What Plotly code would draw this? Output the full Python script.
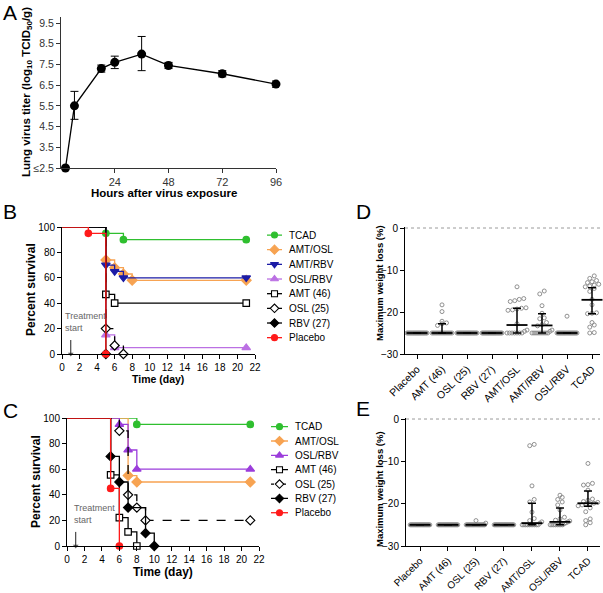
import plotly.graph_objects as go

FONT = "Liberation Sans, Arial, sans-serif"
W, H = 603, 593

# ---------------- Panel A data ----------------
hours = [2, 6, 18, 24, 36, 48, 72, 96]
titer = [2.5, 5.5, 7.3, 7.6, 8.0, 7.45, 7.05, 6.55]
titer_err_plus = [0, 0.7, 0.17, 0.3, 0.85, 0.15, 0.15, 0.15]
titer_err_minus = [0, 0.65, 0.17, 0.3, 0.8, 0.15, 0.15, 0.15]
a_ytick_vals = [2.5, 3.5, 4.5, 5.5, 6.5, 7.5, 8.5, 9.5]
a_ytick_text = ["≤2.5", "3.5", "4.5", "5.5", "6.5", "7.5", "8.5", "9.5"]
a_xtick_vals = [24, 48, 72, 96]

# ---------------- Panel B data (Kaplan-Meier steps) ----------------
b_names = ["TCAD", "AMT/OSL", "AMT/RBV", "OSL/RBV", "AMT (46)", "OSL (25)", "RBV (27)", "Placebo"]
b_tcad_x = [0, 5, 7, 21];        b_tcad_y = [100, 95, 90, 90]
b_amtosl_x = [0, 5, 6, 7, 8, 21]; b_amtosl_y = [100, 74, 68, 63, 58, 58]
b_amtrbv_x = [0, 5, 6, 7, 21];   b_amtrbv_y = [100, 70, 65, 60, 60]
b_oslrbv_x = [0, 5, 6, 21];      b_oslrbv_y = [100, 15, 5, 5]
b_amt_x = [0, 5, 6, 21];         b_amt_y = [100, 47, 40, 40]
b_osl_x = [0, 5, 6, 7];          b_osl_y = [100, 20, 6.7, 0]
b_rbv_x = [0, 5];                b_rbv_y = [100, 0]
b_plac_x = [0, 3, 5];            b_plac_y = [100, 95, 0]

# ---------------- Panel C data ----------------
c_names = ["TCAD", "AMT/OSL", "OSL/RBV", "AMT (46)", "OSL (25)", "RBV (27)", "Placebo"]
c_tcad_x = [0, 8, 21];           c_tcad_y = [100, 95, 95]
c_amtosl_x = [0, 7, 8, 21];      c_amtosl_y = [100, 55, 50, 50]
c_oslrbv_x = [0, 6, 7, 8, 21];   c_oslrbv_y = [100, 95, 75, 60, 60]
c_amt_x = [0, 5, 6, 7, 8];       c_amt_y = [100, 55.5, 22.2, 11.1, 0]
c_osl_x = [0, 6, 7, 8, 9, 21];   c_osl_y = [100, 90, 40, 30, 20, 20]
c_rbv_x = [0, 5, 6, 7, 9, 10];   c_rbv_y = [100, 70, 50, 30, 10, 0]
c_plac_x = [0, 5, 6];            c_plac_y = [100, 45, 0]
surv_xticks = list(range(0, 23, 2))
surv_yticks = [0, 20, 40, 60, 80, 100]
treatment_day = 1

# ---------------- Panel D data (max weight loss, %) ----------------
d_categories = ["Placebo", "AMT (46)", "OSL (25)", "RBV (27)", "AMT/OSL", "AMT/RBV", "OSL/RBV", "TCAD"]
d_placebo = [-25] * 20
d_amt = [-18.3, -19.9, -22.2, -22.6, -22.8, -23.2] + [-25] * 14
d_osl = [-25] * 20
d_rbv = [-25] * 20
d_amtosl = [-14.0, -16.8, -17.0, -17.3, -17.5, -19.0, -19.1, -19.3, -19.5, -19.6,
            -22.8, -24.3, -24.6] + [-25] * 7
d_amtrbv = [-15.0, -15.7, -18.5, -20.3, -21.4, -21.6, -22.5, -23.0, -23.3, -24.3,
            -24.6] + [-25] * 9
d_oslrbv = [-21.0] + [-25] * 19
d_tcad = [-11.4, -12.0, -12.5, -12.8, -13.0, -13.4, -13.6, -13.8, -14.0, -14.4, -15.1,
          -17.0, -18.3, -20.2, -20.3, -20.4, -22.5, -23.1, -23.6, -24.9, -25.0]
d_median = [-25, -25, -25, -25, -23.1, -23.2, -25, -17.1]
d_q1 = [-25, -25, -25, -25, -25, -25, -25, -20.4]
d_q3 = [-25, -22.8, -25, -25, -19.1, -20.4, -25, -14.2]

# ---------------- Panel E data ----------------
e_categories = ["Placebo", "AMT (46)", "OSL (25)", "RBV (27)", "AMT/OSL", "OSL/RBV", "TCAD"]
e_placebo = [-25] * 20
e_amt = [-25] * 20
e_osl = [-24.0, -24.6] + [-25] * 18
e_rbv = [-25] * 20
e_amtosl = [-6.3, -6.0, -15.8, -19.0, -19.6, -22.0, -23.5, -24.0, -24.3, -24.6] + [-25] * 10
e_oslrbv = [-18.0, -18.5, -19.0, -19.6, -20.3, -21.5, -23.2, -23.6, -23.9, -24.1, -24.3,
            -24.5, -24.7] + [-25] * 8
e_tcad = [-10.5, -15.2, -15.5, -15.6, -16.8, -18.9, -19.2, -19.5, -19.7, -19.9, -20.0,
          -20.1, -20.3, -20.5, -21.0, -21.9, -23.6, -24.0, -24.5, -25.0]
e_median = [-25, -25, -25, -25, -24.6, -24.3, -19.9]
e_q1 = [-25, -25, -25, -25, -25, -25, -20.6]
e_q3 = [-25, -25, -25, -25, -19.9, -21.0, -17.0]

# ---------------- styles ----------------
GREEN = "#2fbf2f"
ORANGE = "#f7a352"
BLUE = "#1c1ca6"
PURPLE_B = "#bb70e3"
PURPLE_C = "#9b3ddb"
RED = "#ff1a1a"
BLACK = "#000000"

style = {
    "TCAD": dict(color=GREEN, symbol="circle", fill=GREEN, size=6.5, dash="solid"),
    "AMT/OSL": dict(color=ORANGE, symbol="diamond", fill=ORANGE, size=7.5, dash="solid"),
    "AMT/RBV": dict(color=BLUE, symbol="triangle-down", fill=BLUE, size=7.5, dash="solid"),
    "OSL/RBV": dict(color=PURPLE_B, symbol="triangle-up", fill=PURPLE_B, size=7.5, dash="solid"),
    "AMT (46)": dict(color=BLACK, symbol="square", fill="white", size=6.5, dash="solid"),
    "OSL (25)": dict(color=BLACK, symbol="diamond", fill="white", size=7, dash="dash"),
    "RBV (27)": dict(color=BLACK, symbol="diamond", fill=BLACK, size=7, dash="solid"),
    "Placebo": dict(color=RED, symbol="circle", fill=RED, size=6.5, dash="solid"),
}


def px_x(px):
    return px / W


def px_y(py):
    return 1 - py / H


fig = go.Figure()

# ---------------- Panel A ----------------
fig.add_trace(go.Scatter(
    x=hours, y=titer, mode="lines+markers",
    line=dict(color="black", width=1.3),
    marker=dict(color="black", size=9, symbol="circle"),
    error_y=dict(type="data", symmetric=False, array=titer_err_plus,
                 arrayminus=titer_err_minus, color="black", thickness=1, width=4),
    cliponaxis=False, showlegend=False, xaxis="x", yaxis="y"))


def add_km(xs, ys, name, xa, ya, color_override=None):
    st = dict(style[name])
    if color_override:
        st["color"] = color_override
        st["fill"] = color_override
    fig.add_trace(go.Scatter(
        x=xs, y=ys, mode="lines", line=dict(shape="hv", color=st["color"], width=1.3,
                                              dash=st["dash"]),
        cliponaxis=False, showlegend=False, xaxis=xa, yaxis=ya, hoverinfo="skip"))
    fig.add_trace(go.Scatter(
        x=xs[1:], y=ys[1:], mode="markers",
        marker=dict(symbol=st["symbol"], size=st["size"], color=st["fill"],
                    line=dict(color=st["color"], width=1.2)),
        cliponaxis=False, showlegend=False, xaxis=xa, yaxis=ya, name=name))


# ---------------- Panel B ----------------
b_series = [(b_tcad_x, b_tcad_y), (b_amtosl_x, b_amtosl_y), (b_amtrbv_x, b_amtrbv_y),
            (b_oslrbv_x, b_oslrbv_y), (b_amt_x, b_amt_y), (b_osl_x, b_osl_y),
            (b_rbv_x, b_rbv_y), (b_plac_x, b_plac_y)]
for name, (xs, ys) in zip(b_names, b_series):
    add_km(xs, ys, name, "x2", "y2")

# ---------------- Panel C ----------------
c_series = [(c_tcad_x, c_tcad_y), (c_amtosl_x, c_amtosl_y), (c_oslrbv_x, c_oslrbv_y),
            (c_amt_x, c_amt_y), (c_osl_x, c_osl_y), (c_rbv_x, c_rbv_y),
            (c_plac_x, c_plac_y)]
for name, (xs, ys) in zip(c_names, c_series):
    add_km(xs, ys, name, "x3", "y3",
           color_override=PURPLE_C if name == "OSL/RBV" else None)


# ---------------- legends for B and C (drawn in small helper axes) ----------------
def add_legend(names, xa, ya, line_x, mark_x, text_x, purple):
    for i, name in enumerate(names):
        st = dict(style[name])
        if name == "OSL/RBV":
            st["color"] = purple
            st["fill"] = purple
        fig.add_trace(go.Scatter(
            x=line_x, y=[i, i], mode="lines",
            line=dict(color=st["color"], width=1.3,
                      dash="dot" if st["dash"] != "solid" else "solid"),
            showlegend=False, xaxis=xa, yaxis=ya, hoverinfo="skip", cliponaxis=False))
        fig.add_trace(go.Scatter(
            x=[mark_x], y=[i], mode="markers",
            marker=dict(symbol=st["symbol"], size=st["size"] - 0.5, color=st["fill"],
                        line=dict(color=st["color"], width=1.1)),
            showlegend=False, xaxis=xa, yaxis=ya, hoverinfo="skip", cliponaxis=False))
        fig.add_annotation(x=text_x, y=i, xref=xa, yref=ya, text=name, showarrow=False,
                           xanchor="left", yanchor="middle",
                           font=dict(size=10, color="black", family=FONT))


add_legend(b_names, "x6", "y6", [5, 20], 12.5, 25, PURPLE_B)
add_legend(c_names, "x7", "y7", [6, 23], 14.5, 28, PURPLE_C)


# ---------------- Panels D and E: scatter with median / IQR ----------------
def swarm(values, center, col_half, diam, binsize):
    vals = sorted(values)
    xs, ys = [], []
    i = 0
    while i < len(vals):
        start = vals[i]
        j = i
        while j < len(vals) and vals[j] - start < binsize:
            j += 1
        row = vals[i:j]
        n = len(row)
        step = min(diam, 2 * col_half / (n - 1)) if n > 1 else 0
        for k, v in enumerate(row):
            xs.append(center + (k - (n - 1) / 2) * step)
            ys.append(v)
        i = j
    return xs, ys


def add_dot_panel(groups, med, q1, q3, xa, ya, col_half, diam):
    allx, ally = [], []
    for idx, vals in enumerate(groups):
        xs, ys = swarm(vals, idx, col_half, diam, 1.0)
        allx += xs
        ally += ys
    fig.add_trace(go.Scatter(
        x=allx, y=ally, mode="markers",
        marker=dict(symbol="circle-open", size=4, color="#858585",
                    line=dict(width=0.9, color="#858585")),
        showlegend=False, xaxis=xa, yaxis=ya, cliponaxis=False))
    fig.add_trace(go.Scatter(
        x=list(range(len(med))), y=med, mode="markers",
        marker=dict(symbol="line-ew-open", size=15, color="black",
                    line=dict(width=1.8, color="black")),
        error_y=dict(type="data", symmetric=False,
                     array=[b - m for b, m in zip(q3, med)],
                     arrayminus=[m - a for a, m in zip(q1, med)],
                     color="black", thickness=1.5, width=4),
        showlegend=False, xaxis=xa, yaxis=ya, cliponaxis=False))


add_dot_panel([d_placebo, d_amt, d_osl, d_rbv, d_amtosl, d_amtrbv, d_oslrbv, d_tcad],
              d_median, d_q1, d_q3, "x4", "y4", 0.40, 0.18)
add_dot_panel([e_placebo, e_amt, e_osl, e_rbv, e_amtosl, e_oslrbv, e_tcad],
              e_median, e_q1, e_q3, "x5", "y5", 0.35, 0.16)

for xa, ya in [("x4", "y4"), ("x5", "y5")]:
    fig.add_shape(type="line", xref=xa + " domain", x0=0, x1=1, yref=ya, y0=0, y1=0,
                  line=dict(color="#9a9a9a", width=1, dash="dot"), layer="below")

# ---------------- axes ----------------
base = dict(showline=True, linecolor="black", linewidth=1, ticks="outside", ticklen=4,
            tickwidth=1, tickcolor="black", showgrid=False, zeroline=False, automargin=False,
            tickfont=dict(size=10, color="black", family=FONT), fixedrange=True)
hidden = dict(visible=False, showgrid=False, zeroline=False, fixedrange=True, automargin=False)

fig.update_layout(
    template="none",
    xaxis=dict(base, domain=[px_x(61), px_x(276)], range=[0, 96], tickvals=a_xtick_vals,
               anchor="y", tickfont=dict(size=11, color="#333", family=FONT),
               linecolor="#333", tickcolor="#333"),
    yaxis=dict(base, domain=[px_y(168), px_y(17)], range=[2.5, 9.79], tickvals=a_ytick_vals,
               ticktext=a_ytick_text, anchor="x", tickfont=dict(size=10.5, color="#333", family=FONT),
               linecolor="#333", tickcolor="#333"),
    xaxis2=dict(base, domain=[px_x(62), px_x(255)], range=[0, 22], tickvals=surv_xticks,
                anchor="y2"),
    yaxis2=dict(base, domain=[px_y(354), px_y(227)], range=[0, 100], tickvals=surv_yticks,
                anchor="x2"),
    xaxis3=dict(base, domain=[px_x(67), px_x(259)], range=[0, 22], tickvals=surv_xticks,
                anchor="y3"),
    yaxis3=dict(base, domain=[px_y(546), px_y(418)], range=[0, 100], tickvals=surv_yticks,
                anchor="x3"),
    xaxis4=dict(base, domain=[px_x(405), px_x(600)], range=[-0.48, 7.32],
                tickvals=list(range(len(d_categories))), ticktext=d_categories,
                tickangle=-45, anchor="y4",
                tickfont=dict(size=10.5, color="black", family=FONT)),
    yaxis4=dict(base, domain=[px_y(354), px_y(227)], range=[-30, 0.24],
                tickvals=[-30, -20, -10, 0], anchor="x4"),
    xaxis5=dict(base, domain=[px_x(406), px_x(600)], range=[-0.5, 6.43],
                tickvals=list(range(len(e_categories))), ticktext=e_categories,
                tickangle=-45, anchor="y5",
                tickfont=dict(size=10, color="black", family=FONT)),
    yaxis5=dict(base, domain=[px_y(546), px_y(418)], range=[-30, 0.24],
                tickvals=[-30, -20, -10, 0], anchor="x5"),
    xaxis6=dict(hidden, domain=[px_x(262), px_x(340)], range=[0, 78], anchor="y6"),
    yaxis6=dict(hidden, domain=[px_y(345), px_y(227.7)], range=[7.5, -0.5], anchor="x6"),
    xaxis7=dict(hidden, domain=[px_x(265), px_x(345)], range=[0, 80], anchor="y7"),
    yaxis7=dict(hidden, domain=[px_y(519.9), px_y(419.5)], range=[6.5, -0.5], anchor="x7"),
)

# ---------------- text annotations ----------------
def ann(text, x, y, size, angle=0, color="black", xanchor="center", yanchor="middle"):
    fig.add_annotation(text=text, x=px_x(x), y=px_y(y), xref="paper", yref="paper",
                       showarrow=False, textangle=angle, xanchor=xanchor, yanchor=yanchor,
                       font=dict(size=size, color=color, family=FONT))


ann("A", 10, 13, 21)
ann("B", 10, 212, 21)
ann("C", 10, 410, 21)
ann("D", 363, 212, 21)
ann("E", 363, 408, 21)

ann("<b>Lung virus titer (log<sub>10</sub> TCID<sub>50</sub>/g)</b>", 27, 92, 11.5, angle=-90)
ann("<b>Hours after virus exposure</b>", 164, 193, 11.5)
ann("<b>Percent survival</b>", 31, 290, 12, angle=-90)
ann("<b>Time (day)</b>", 158, 379, 10.5)
ann("<b>Percent survival</b>", 36, 482, 12, angle=-90)
ann("<b>Time (day)</b>", 163, 572, 12)
ann("<b>Maximum weight loss (%)</b>", 379, 283, 9.5, angle=-90)
ann("<b>Maximum weight loss (%)</b>", 379, 489, 9.5, angle=-90)

# treatment start markers
for xa, ya in [("x2", "y2"), ("x3", "y3")]:
    fig.add_annotation(text="Treatment<br>start", x=0.15 if xa == "x2" else 0.55, y=25,
                       xref=xa, yref=ya, showarrow=False, xanchor="left", yanchor="middle",
                       align="left", font=dict(size=9, color="#666", family=FONT))
    fig.add_trace(go.Scatter(
        x=[treatment_day, treatment_day], y=[11, 0], mode="lines+markers",
        line=dict(color="#222", width=1),
        marker=dict(symbol=["line-ns", "triangle-down"], size=[0.1, 5], color="#222",
                    line=dict(width=0)),
        showlegend=False, xaxis=xa, yaxis=ya, cliponaxis=False, hoverinfo="skip"))

fig.update_layout(width=W, height=H, autosize=False, margin=dict(l=0, r=0, t=0, b=0, pad=0),
                  paper_bgcolor="white", plot_bgcolor="white",
                  font=dict(family=FONT, color="black"), showlegend=False)

fig.write_html("out.html", config={"displayModeBar": False, "staticPlot": True},
               post_script="document.body.style.margin='0px';"
                           "document.body.style.overflow='hidden';")
